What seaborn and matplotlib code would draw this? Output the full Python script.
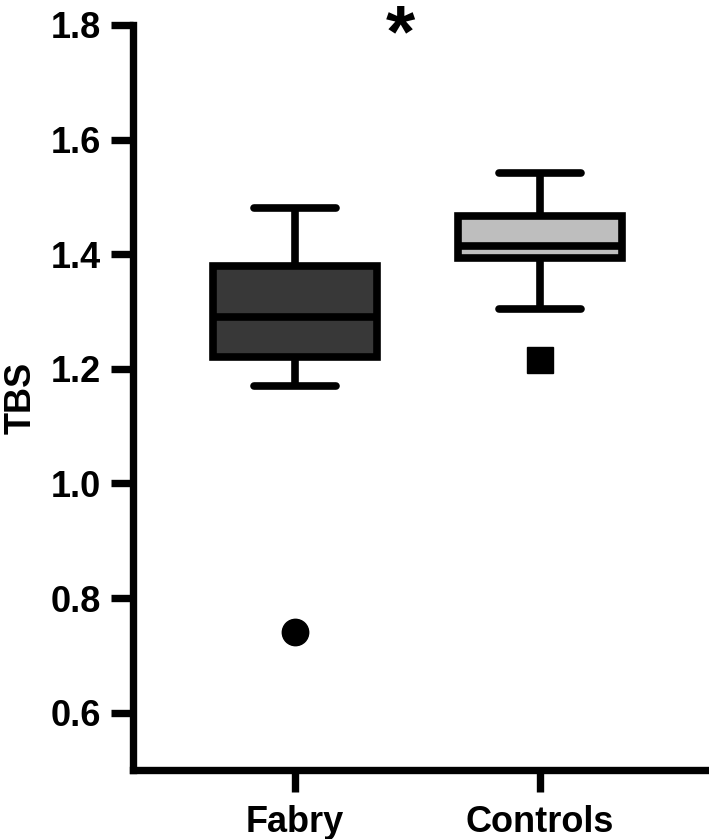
import numpy as np
import pandas as pd
import seaborn as sns
import matplotlib.pyplot as plt

groups = ["Fabry", "Controls"]
fabry_tbs = [0.74, 1.17, 1.22, 1.25, 1.29, 1.33, 1.38, 1.45, 1.48]
controls_tbs = [1.216, 1.305, 1.394, 1.405, 1.415, 1.44, 1.467, 1.51, 1.542]
box_colors = ["#383838", "#bebebe"]
flier_markers = ["o", "s"]
yticks = [0.6, 0.8, 1.0, 1.2, 1.4, 1.6, 1.8]

sns.set_theme(style="ticks")
plt.rcParams['font.family'] = ['Liberation Sans', 'DejaVu Sans']

fig = plt.figure(figsize=(7.09, 8.39), dpi=100)
ax = fig.add_axes([133 / 709, 1 - 770 / 839, 1 - 133 / 709, (770 - 25) / 839])

df = pd.DataFrame({
    "group": ["Fabry"] * len(fabry_tbs) + ["Controls"] * len(controls_tbs),
    "TBS": fabry_tbs + controls_tbs,
})

for g, c, m in zip(groups, box_colors, flier_markers):
    sns.boxplot(
        data=df[df["group"] == g], x="group", y="TBS", order=groups,
        color=c, saturation=1, width=0.67, linewidth=5.5, linecolor="black",
        whis=1.5, fliersize=19,
        flierprops=dict(marker=m, markerfacecolor="black", markeredgecolor="black"),
        ax=ax,
    )

ax.set_ylim(0.5, 1.8)
ax.set_xlim(-0.661, 1.69)
ax.set_yticks(yticks)
ax.set_yticklabels([f"{v:.1f}" for v in yticks])
ax.set_xticks(range(len(groups)))
ax.set_xticklabels(groups)
for s in ["top", "right"]:
    ax.spines[s].set_visible(False)
for s in ["left", "bottom"]:
    ax.spines[s].set_linewidth(5.3)
    ax.spines[s].set_color("black")
ax.tick_params(axis="both", width=5.3, length=16, labelsize=26, colors="black")
ax.tick_params(axis="y", pad=7)
ax.tick_params(axis="x", pad=9)
for lab in ax.get_xticklabels() + ax.get_yticklabels():
    lab.set_fontweight("bold")
ax.set_xlabel("")
ax.set_ylabel("TBS", fontsize=26, fontweight="bold", labelpad=9, color="black")

ax.text(0.43, 1.746, "*", fontsize=54, fontweight="bold", ha="center",
        va="baseline", clip_on=False, color="black")

fig.savefig("out.png", dpi=100)
